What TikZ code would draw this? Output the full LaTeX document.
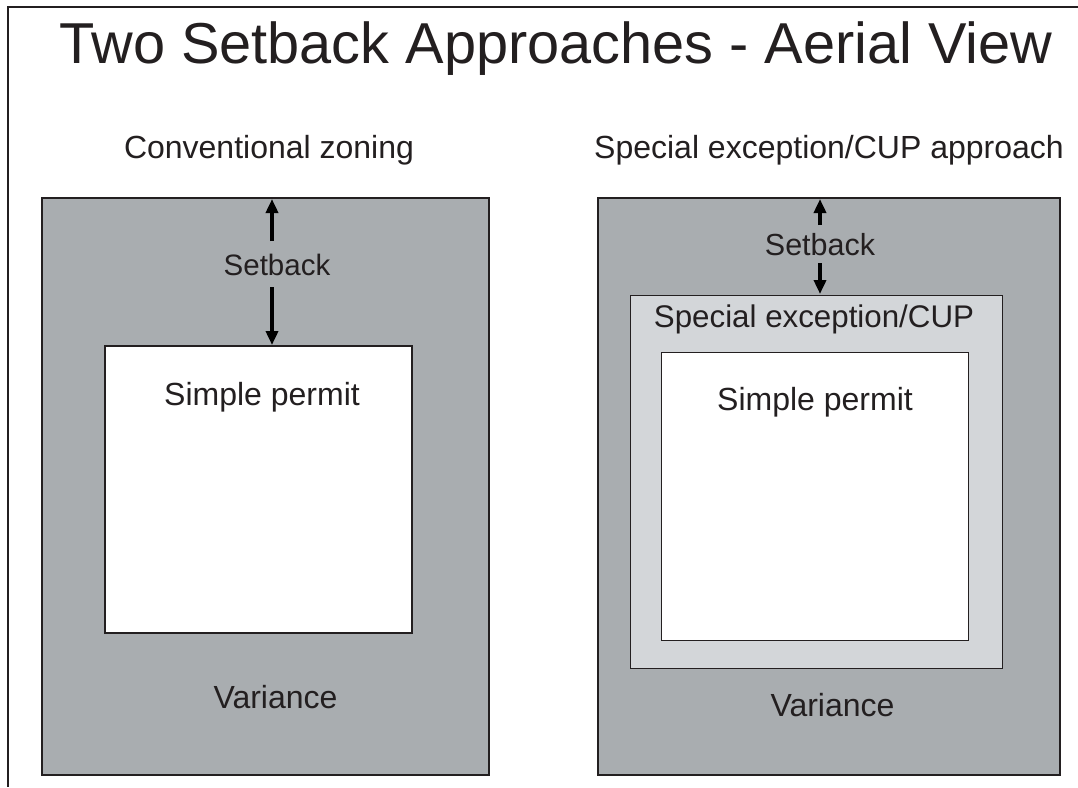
\documentclass[tikz,border=0pt]{standalone}
\usepackage{fontspec}
\usetikzlibrary{arrows.meta}
\setmainfont{Liberation Sans}
\definecolor{darkbox}{HTML}{A9ADB0}
\definecolor{lightbox}{HTML}{D3D6D9}
\definecolor{ink}{HTML}{231F20}
\begin{document}
\begin{tikzpicture}[x=1pt,y=-1pt,
  zone/.style={draw=ink,line width=1.5pt},
  lbl/.style={text=ink,inner sep=0pt,anchor=base,font=\fontsize{32}{32}\selectfont},
  arr/.style={-{Triangle[length=14pt,width=12pt]},line width=3.5pt,draw=black}]
\useasboundingbox (0,0) rectangle (1078,787);
\fill[white] (0,0) rectangle (1078,787);
\draw[ink,line width=2pt] (1078,7) -- (7.5,7) -- (7.5,787);
\node[lbl,font=\fontsize{57.7}{58}\selectfont] (title) at (556,63) {Two Setback Approaches - Aerial View};
\node[lbl] (subL) at (269,158) {Conventional zoning};
\node[lbl] (subR) at (829,158) {Special exception/CUP approach};
% left
\draw[zone,fill=darkbox] (42,198) rectangle (489,775);
\coordinate (Ltop) at (272,199);
\draw[zone,fill=white] (105,346) rectangle (412,633);
\coordinate (Lin) at (272,345);
\node[lbl,font=\fontsize{29.5}{30}\selectfont] (sbL) at (277,275) {Setback};
\node[lbl] (spL) at (262,405) {Simple permit};
\node[lbl] (vaL) at (275.5,708) {Variance};
\draw[arr] (272,241) -- (Ltop);
\draw[arr] (272,287) -- (Lin);
% right
\draw[zone,fill=darkbox] (598,198) rectangle (1060,775);
\draw[zone,line width=1pt,fill=lightbox] (630,295) rectangle (1002,668);
\draw[zone,line width=1pt,fill=white] (661,352) rectangle (968,640);
\coordinate (Rtop) at (820,199);
\coordinate (Rin) at (820,294);
\node[lbl,font=\fontsize{30.5}{31}\selectfont] (sbR) at (820,255) {Setback};
\node[lbl,font=\fontsize{31.3}{32}\selectfont] (scR) at (814,327) {Special exception/CUP};
\node[lbl] (spR) at (815,410) {Simple permit};
\node[lbl] (vaR) at (832.5,716) {Variance};
\draw[arr] (820,225) -- (Rtop);
\draw[arr] (820,263) -- (Rin);
\end{tikzpicture}
\end{document}
